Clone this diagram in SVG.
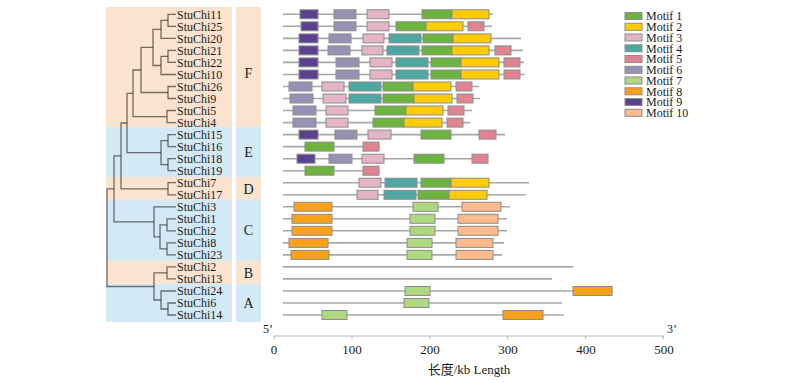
<svg xmlns="http://www.w3.org/2000/svg" width="800" height="383" viewBox="0 0 800 383">
<style>
.pe{fill:#FBE4CF}
.bl{fill:#D3EAF6}
.tr{fill:none;stroke:#1e1e1e;stroke-opacity:0.62;stroke-width:1.3}
.lb{font-family:"Liberation Serif","Times New Roman",serif;font-size:12px;fill:#1a1a1a}
.lg{font-family:"Liberation Serif","Times New Roman",serif;font-size:12px;fill:#1a1a1a}
.gp{font-family:"Liberation Serif","Times New Roman",serif;font-size:14px;fill:#1a1a1a;text-anchor:middle}
.gl{stroke:#a8a8a8;stroke-width:1.6}
.bx rect{stroke:#8c8c8c;stroke-width:1;height:9px}
.m1{fill:#6DB33F}.m2{fill:#FFCC00}.m3{fill:#E3B5C6}.m4{fill:#4FA7A1}.m5{fill:#E08492}
.m6{fill:#9692B3}.m7{fill:#AED982}.m8{fill:#F9A11B}.m9{fill:#5C418C}.m10{fill:#FDBA8C}
.ax{stroke:#b5b5b5;stroke-width:1.2;fill:none}
.nt{font-family:"Liberation Serif","Times New Roman",serif;font-size:13px;fill:#1a1a1a;text-anchor:middle}
</style>
<rect width="800" height="383" fill="#ffffff"/>
<g id="bands">
<rect class="pe" x="106" y="7" width="126" height="120"/>
<rect class="bl" x="106" y="127" width="126" height="50"/>
<rect class="pe" x="106" y="177" width="126" height="23"/>
<rect class="bl" x="106" y="200" width="126" height="61"/>
<rect class="pe" x="106" y="261" width="126" height="23"/>
<rect class="bl" x="106" y="284" width="126" height="38"/>
<rect class="pe" x="236" y="7" width="25" height="120"/>
<rect class="bl" x="236" y="127" width="25" height="50"/>
<rect class="pe" x="236" y="177" width="25" height="23"/>
<rect class="bl" x="236" y="200" width="25" height="61"/>
<rect class="pe" x="236" y="261" width="25" height="23"/>
<rect class="bl" x="236" y="284" width="25" height="38"/>
</g>
<g id="groups">
<text class="gp" x="248.5" y="77.5">F</text>
<text class="gp" x="248.5" y="157">E</text>
<text class="gp" x="248.5" y="193.5">D</text>
<text class="gp" x="248.5" y="235">C</text>
<text class="gp" x="248.5" y="277.5">B</text>
<text class="gp" x="248.5" y="308">A</text>
</g>
<g id="connectors">
<path class="tr" d="M176 14.3H168V26.3H176"/>
<path class="tr" d="M168 20.3H161V38.4H176"/>
<path class="tr" d="M176 50.4H168V62.4H176"/>
<path class="tr" d="M168 56.4H161V74.5H176"/>
<path class="tr" d="M161 29.4H153V65.5H161"/>
<path class="tr" d="M176 86.5H168V98.5H176"/>
<path class="tr" d="M153 47.4H141V92.5H168"/>
<path class="tr" d="M176 110.5H167V122.6H176"/>
<path class="tr" d="M141 70H133V116.6H167"/>
<path class="tr" d="M176 134.6H168V146.6H176"/>
<path class="tr" d="M176 158.7H168V170.7H176"/>
<path class="tr" d="M168 140.6H161V164.7H168"/>
<path class="tr" d="M133 93.3H127V152.7H161"/>
<path class="tr" d="M176 182.7H168V194.8H176"/>
<path class="tr" d="M127 123H121V188.8H168"/>
<path class="tr" d="M176 218.8H167V230.8H176"/>
<path class="tr" d="M176 242.9H167V254.9H176"/>
<path class="tr" d="M167 224.8H160V248.9H167"/>
<path class="tr" d="M176 206.8H154V236.9H160"/>
<path class="tr" d="M121 155.9H114V221.8H154"/>
<path class="tr" d="M176 266.9H167V278.9H176"/>
<path class="tr" d="M176 303H168V315H176"/>
<path class="tr" d="M176 291H161V309H168"/>
<path class="tr" d="M167 272.9H154V300H161"/>
<path class="tr" d="M114 188.8H107V286.5H154"/>
</g>
<g id="labels">
<text class="lb" x="177" y="18.5">StuChi11</text>
<text class="lb" x="177" y="30.5">StuChi25</text>
<text class="lb" x="177" y="42.6">StuChi20</text>
<text class="lb" x="177" y="54.6">StuChi21</text>
<text class="lb" x="177" y="66.6">StuChi22</text>
<text class="lb" x="177" y="78.7">StuChi10</text>
<text class="lb" x="177" y="90.7">StuChi26</text>
<text class="lb" x="177" y="102.7">StuChi9</text>
<text class="lb" x="177" y="114.7">StuChi5</text>
<text class="lb" x="177" y="126.8">StuChi4</text>
<text class="lb" x="177" y="138.8">StuChi15</text>
<text class="lb" x="177" y="150.8">StuChi16</text>
<text class="lb" x="177" y="162.9">StuChi18</text>
<text class="lb" x="177" y="174.9">StuChi19</text>
<text class="lb" x="177" y="186.9">StuChi7</text>
<text class="lb" x="177" y="199">StuChi17</text>
<text class="lb" x="177" y="211">StuChi3</text>
<text class="lb" x="177" y="223">StuChi1</text>
<text class="lb" x="177" y="235">StuChi2</text>
<text class="lb" x="177" y="247.1">StuChi8</text>
<text class="lb" x="177" y="259.1">StuChi23</text>
<text class="lb" x="177" y="271.1">StuChi2</text>
<text class="lb" x="177" y="283.1">StuChi13</text>
<text class="lb" x="177" y="295.2">StuChi24</text>
<text class="lb" x="177" y="307.2">StuChi6</text>
<text class="lb" x="177" y="319.2">StuChi14</text>
</g>
<g id="genes">
<g id="g-StuChi11" class="bx" transform="translate(0,14.3)"><line class="gl" x1="283" x2="493"/><rect class="m9" x="300" y="-4.5" width="18"/><rect class="m6" x="334" y="-4.5" width="22"/><rect class="m3" x="367" y="-4.5" width="22"/><rect class="m1" x="422" y="-4.5" width="30"/><rect class="m2" x="452" y="-4.5" width="37"/></g>
<g id="g-StuChi25" class="bx" transform="translate(0,26.3)"><line class="gl" x1="283" x2="492"/><rect class="m9" x="301" y="-4.5" width="17"/><rect class="m6" x="334" y="-4.5" width="22"/><rect class="m3" x="367" y="-4.5" width="22"/><rect class="m1" x="396" y="-4.5" width="30"/><rect class="m2" x="426" y="-4.5" width="37"/><rect class="m5" x="468" y="-4.5" width="16"/></g>
<g id="g-StuChi20" class="bx" transform="translate(0,38.4)"><line class="gl" x1="283" x2="521"/><rect class="m9" x="299" y="-4.5" width="19"/><rect class="m6" x="329" y="-4.5" width="22"/><rect class="m3" x="363" y="-4.5" width="21"/><rect class="m4" x="389" y="-4.5" width="32"/><rect class="m1" x="423" y="-4.5" width="30"/><rect class="m2" x="453" y="-4.5" width="38"/></g>
<g id="g-StuChi21" class="bx" transform="translate(0,50.4)"><line class="gl" x1="283" x2="523"/><rect class="m9" x="299" y="-4.5" width="19"/><rect class="m6" x="328" y="-4.5" width="22"/><rect class="m3" x="362" y="-4.5" width="21"/><rect class="m4" x="387" y="-4.5" width="32"/><rect class="m1" x="422" y="-4.5" width="30"/><rect class="m2" x="452" y="-4.5" width="37"/><rect class="m5" x="495" y="-4.5" width="16"/></g>
<g id="g-StuChi22" class="bx" transform="translate(0,62.4)"><line class="gl" x1="283" x2="524"/><rect class="m9" x="299" y="-4.5" width="19"/><rect class="m6" x="336" y="-4.5" width="23"/><rect class="m3" x="370" y="-4.5" width="22"/><rect class="m4" x="396" y="-4.5" width="32"/><rect class="m1" x="431" y="-4.5" width="30"/><rect class="m2" x="461" y="-4.5" width="38"/><rect class="m5" x="504" y="-4.5" width="16"/></g>
<g id="g-StuChi10" class="bx" transform="translate(0,74.5)"><line class="gl" x1="283" x2="525"/><rect class="m9" x="299" y="-4.5" width="19"/><rect class="m6" x="336" y="-4.5" width="23"/><rect class="m3" x="370" y="-4.5" width="22"/><rect class="m4" x="396" y="-4.5" width="32"/><rect class="m1" x="431" y="-4.5" width="30"/><rect class="m2" x="461" y="-4.5" width="38"/><rect class="m5" x="504" y="-4.5" width="16"/></g>
<g id="g-StuChi26" class="bx" transform="translate(0,86.5)"><line class="gl" x1="283" x2="479"/><rect class="m6" x="289" y="-4.5" width="23"/><rect class="m3" x="322" y="-4.5" width="22"/><rect class="m4" x="349" y="-4.5" width="32"/><rect class="m1" x="383" y="-4.5" width="30"/><rect class="m2" x="413" y="-4.5" width="38"/><rect class="m5" x="456" y="-4.5" width="16"/></g>
<g id="g-StuChi9" class="bx" transform="translate(0,98.5)"><line class="gl" x1="283" x2="480"/><rect class="m6" x="290" y="-4.5" width="23"/><rect class="m3" x="323" y="-4.5" width="23"/><rect class="m4" x="349" y="-4.5" width="32"/><rect class="m1" x="383" y="-4.5" width="31"/><rect class="m2" x="414" y="-4.5" width="38"/><rect class="m5" x="457" y="-4.5" width="16"/></g>
<g id="g-StuChi5" class="bx" transform="translate(0,110.5)"><line class="gl" x1="283" x2="472"/><rect class="m6" x="293" y="-4.5" width="23"/><rect class="m3" x="326" y="-4.5" width="22"/><rect class="m1" x="375" y="-4.5" width="31"/><rect class="m2" x="406" y="-4.5" width="37"/><rect class="m5" x="448" y="-4.5" width="16"/></g>
<g id="g-StuChi4" class="bx" transform="translate(0,122.6)"><line class="gl" x1="283" x2="470"/><rect class="m6" x="293" y="-4.5" width="23"/><rect class="m3" x="326" y="-4.5" width="22"/><rect class="m1" x="373" y="-4.5" width="31"/><rect class="m2" x="404" y="-4.5" width="38"/><rect class="m5" x="447" y="-4.5" width="16"/></g>
<g id="g-StuChi15" class="bx" transform="translate(0,134.6)"><line class="gl" x1="283" x2="505"/><rect class="m9" x="299" y="-4.5" width="19"/><rect class="m6" x="335" y="-4.5" width="22"/><rect class="m3" x="368" y="-4.5" width="23"/><rect class="m1" x="421" y="-4.5" width="30"/><rect class="m5" x="479" y="-4.5" width="17"/></g>
<g id="g-StuChi16" class="bx" transform="translate(0,146.6)"><line class="gl" x1="283" x2="380"/><rect class="m1" x="305" y="-4.5" width="29"/><rect class="m5" x="363" y="-4.5" width="16"/></g>
<g id="g-StuChi18" class="bx" transform="translate(0,158.7)"><line class="gl" x1="283" x2="488"/><rect class="m9" x="297" y="-4.5" width="18"/><rect class="m6" x="329" y="-4.5" width="23"/><rect class="m3" x="362" y="-4.5" width="22"/><rect class="m1" x="414" y="-4.5" width="30"/><rect class="m5" x="472" y="-4.5" width="16"/></g>
<g id="g-StuChi19" class="bx" transform="translate(0,170.7)"><line class="gl" x1="283" x2="380"/><rect class="m1" x="305" y="-4.5" width="29"/><rect class="m5" x="363" y="-4.5" width="16"/></g>
<g id="g-StuChi7" class="bx" transform="translate(0,182.7)"><line class="gl" x1="283" x2="529"/><rect class="m3" x="359" y="-4.5" width="22"/><rect class="m4" x="385" y="-4.5" width="32"/><rect class="m1" x="421" y="-4.5" width="30"/><rect class="m2" x="451" y="-4.5" width="38"/></g>
<g id="g-StuChi17" class="bx" transform="translate(0,194.8)"><line class="gl" x1="283" x2="526"/><rect class="m3" x="357" y="-4.5" width="21"/><rect class="m4" x="384" y="-4.5" width="32"/><rect class="m1" x="418" y="-4.5" width="31"/><rect class="m2" x="449" y="-4.5" width="38"/></g>
<g id="g-StuChi3" class="bx" transform="translate(0,206.8)"><line class="gl" x1="283" x2="510"/><rect class="m8" x="294" y="-4.5" width="38"/><rect class="m7" x="413" y="-4.5" width="25"/><rect class="m10" x="462" y="-4.5" width="39"/></g>
<g id="g-StuChi1" class="bx" transform="translate(0,218.8)"><line class="gl" x1="283" x2="507"/><rect class="m8" x="292" y="-4.5" width="40"/><rect class="m7" x="410" y="-4.5" width="25"/><rect class="m10" x="458" y="-4.5" width="40"/></g>
<g id="g-StuChi2-C" class="bx" transform="translate(0,230.8)"><line class="gl" x1="283" x2="507"/><rect class="m8" x="292" y="-4.5" width="40"/><rect class="m7" x="410" y="-4.5" width="25"/><rect class="m10" x="458" y="-4.5" width="40"/></g>
<g id="g-StuChi8" class="bx" transform="translate(0,242.9)"><line class="gl" x1="283" x2="504"/><rect class="m8" x="289" y="-4.5" width="39"/><rect class="m7" x="407" y="-4.5" width="25"/><rect class="m10" x="456" y="-4.5" width="37"/></g>
<g id="g-StuChi23" class="bx" transform="translate(0,254.9)"><line class="gl" x1="283" x2="502"/><rect class="m8" x="291" y="-4.5" width="38"/><rect class="m7" x="407" y="-4.5" width="25"/><rect class="m10" x="456" y="-4.5" width="37"/></g>
<g id="g-StuChi2-B" class="bx" transform="translate(0,266.9)"><line class="gl" x1="283" x2="573"/></g>
<g id="g-StuChi13" class="bx" transform="translate(0,278.9)"><line class="gl" x1="283" x2="552"/></g>
<g id="g-StuChi24" class="bx" transform="translate(0,291)"><line class="gl" x1="283" x2="613"/><rect class="m7" x="405" y="-4.5" width="25"/><rect class="m8" x="573" y="-4.5" width="39"/></g>
<g id="g-StuChi6" class="bx" transform="translate(0,303)"><line class="gl" x1="283" x2="562"/><rect class="m7" x="404" y="-4.5" width="25"/></g>
<g id="g-StuChi14" class="bx" transform="translate(0,315)"><line class="gl" x1="283" x2="564"/><rect class="m7" x="322" y="-4.5" width="25"/><rect class="m8" x="503" y="-4.5" width="40"/></g>
</g>
<g id="legend" class="bx">
<rect class="m1" x="625" y="12.5" width="17" height="7" style="height:7px"/>
<rect class="m2" x="625" y="23.3" width="17" height="7" style="height:7px"/>
<rect class="m3" x="625" y="34" width="17" height="7" style="height:7px"/>
<rect class="m4" x="625" y="44.8" width="17" height="7" style="height:7px"/>
<rect class="m5" x="625" y="55.5" width="17" height="7" style="height:7px"/>
<rect class="m6" x="625" y="66.3" width="17" height="7" style="height:7px"/>
<rect class="m7" x="625" y="77" width="17" height="7" style="height:7px"/>
<rect class="m8" x="625" y="87.8" width="17" height="7" style="height:7px"/>
<rect class="m9" x="625" y="98.5" width="17" height="7" style="height:7px"/>
<rect class="m10" x="625" y="109.3" width="17" height="7" style="height:7px"/>
<text class="lg" x="646" y="20.2">Motif 1</text>
<text class="lg" x="646" y="31">Motif 2</text>
<text class="lg" x="646" y="41.7">Motif 3</text>
<text class="lg" x="646" y="52.5">Motif 4</text>
<text class="lg" x="646" y="63.2">Motif 5</text>
<text class="lg" x="646" y="74">Motif 6</text>
<text class="lg" x="646" y="84.7">Motif 7</text>
<text class="lg" x="646" y="95.5">Motif 8</text>
<text class="lg" x="646" y="106.2">Motif 9</text>
<text class="lg" x="646" y="117">Motif 10</text>
</g>
<g id="axis">
<path class="ax" d="M274 336H664M274 336v3M352 336v3M430 336v3M507.6 336v3M585.5 336v3M663.3 336v3"/>
<text class="lb" x="263" y="333">5’</text>
<text class="lb" x="667" y="333">3’</text>
<text class="nt" x="274" y="354">0</text>
<text class="nt" x="352" y="354">100</text>
<text class="nt" x="430" y="354">200</text>
<text class="nt" x="508" y="354">300</text>
<text class="nt" x="586" y="354">400</text>
<text class="nt" x="664" y="354">500</text>
<text class="nt" x="469" y="374" style="font-family:'Liberation Serif','Noto Sans CJK SC',serif">长度/kb Length</text>
</g>
</svg>
